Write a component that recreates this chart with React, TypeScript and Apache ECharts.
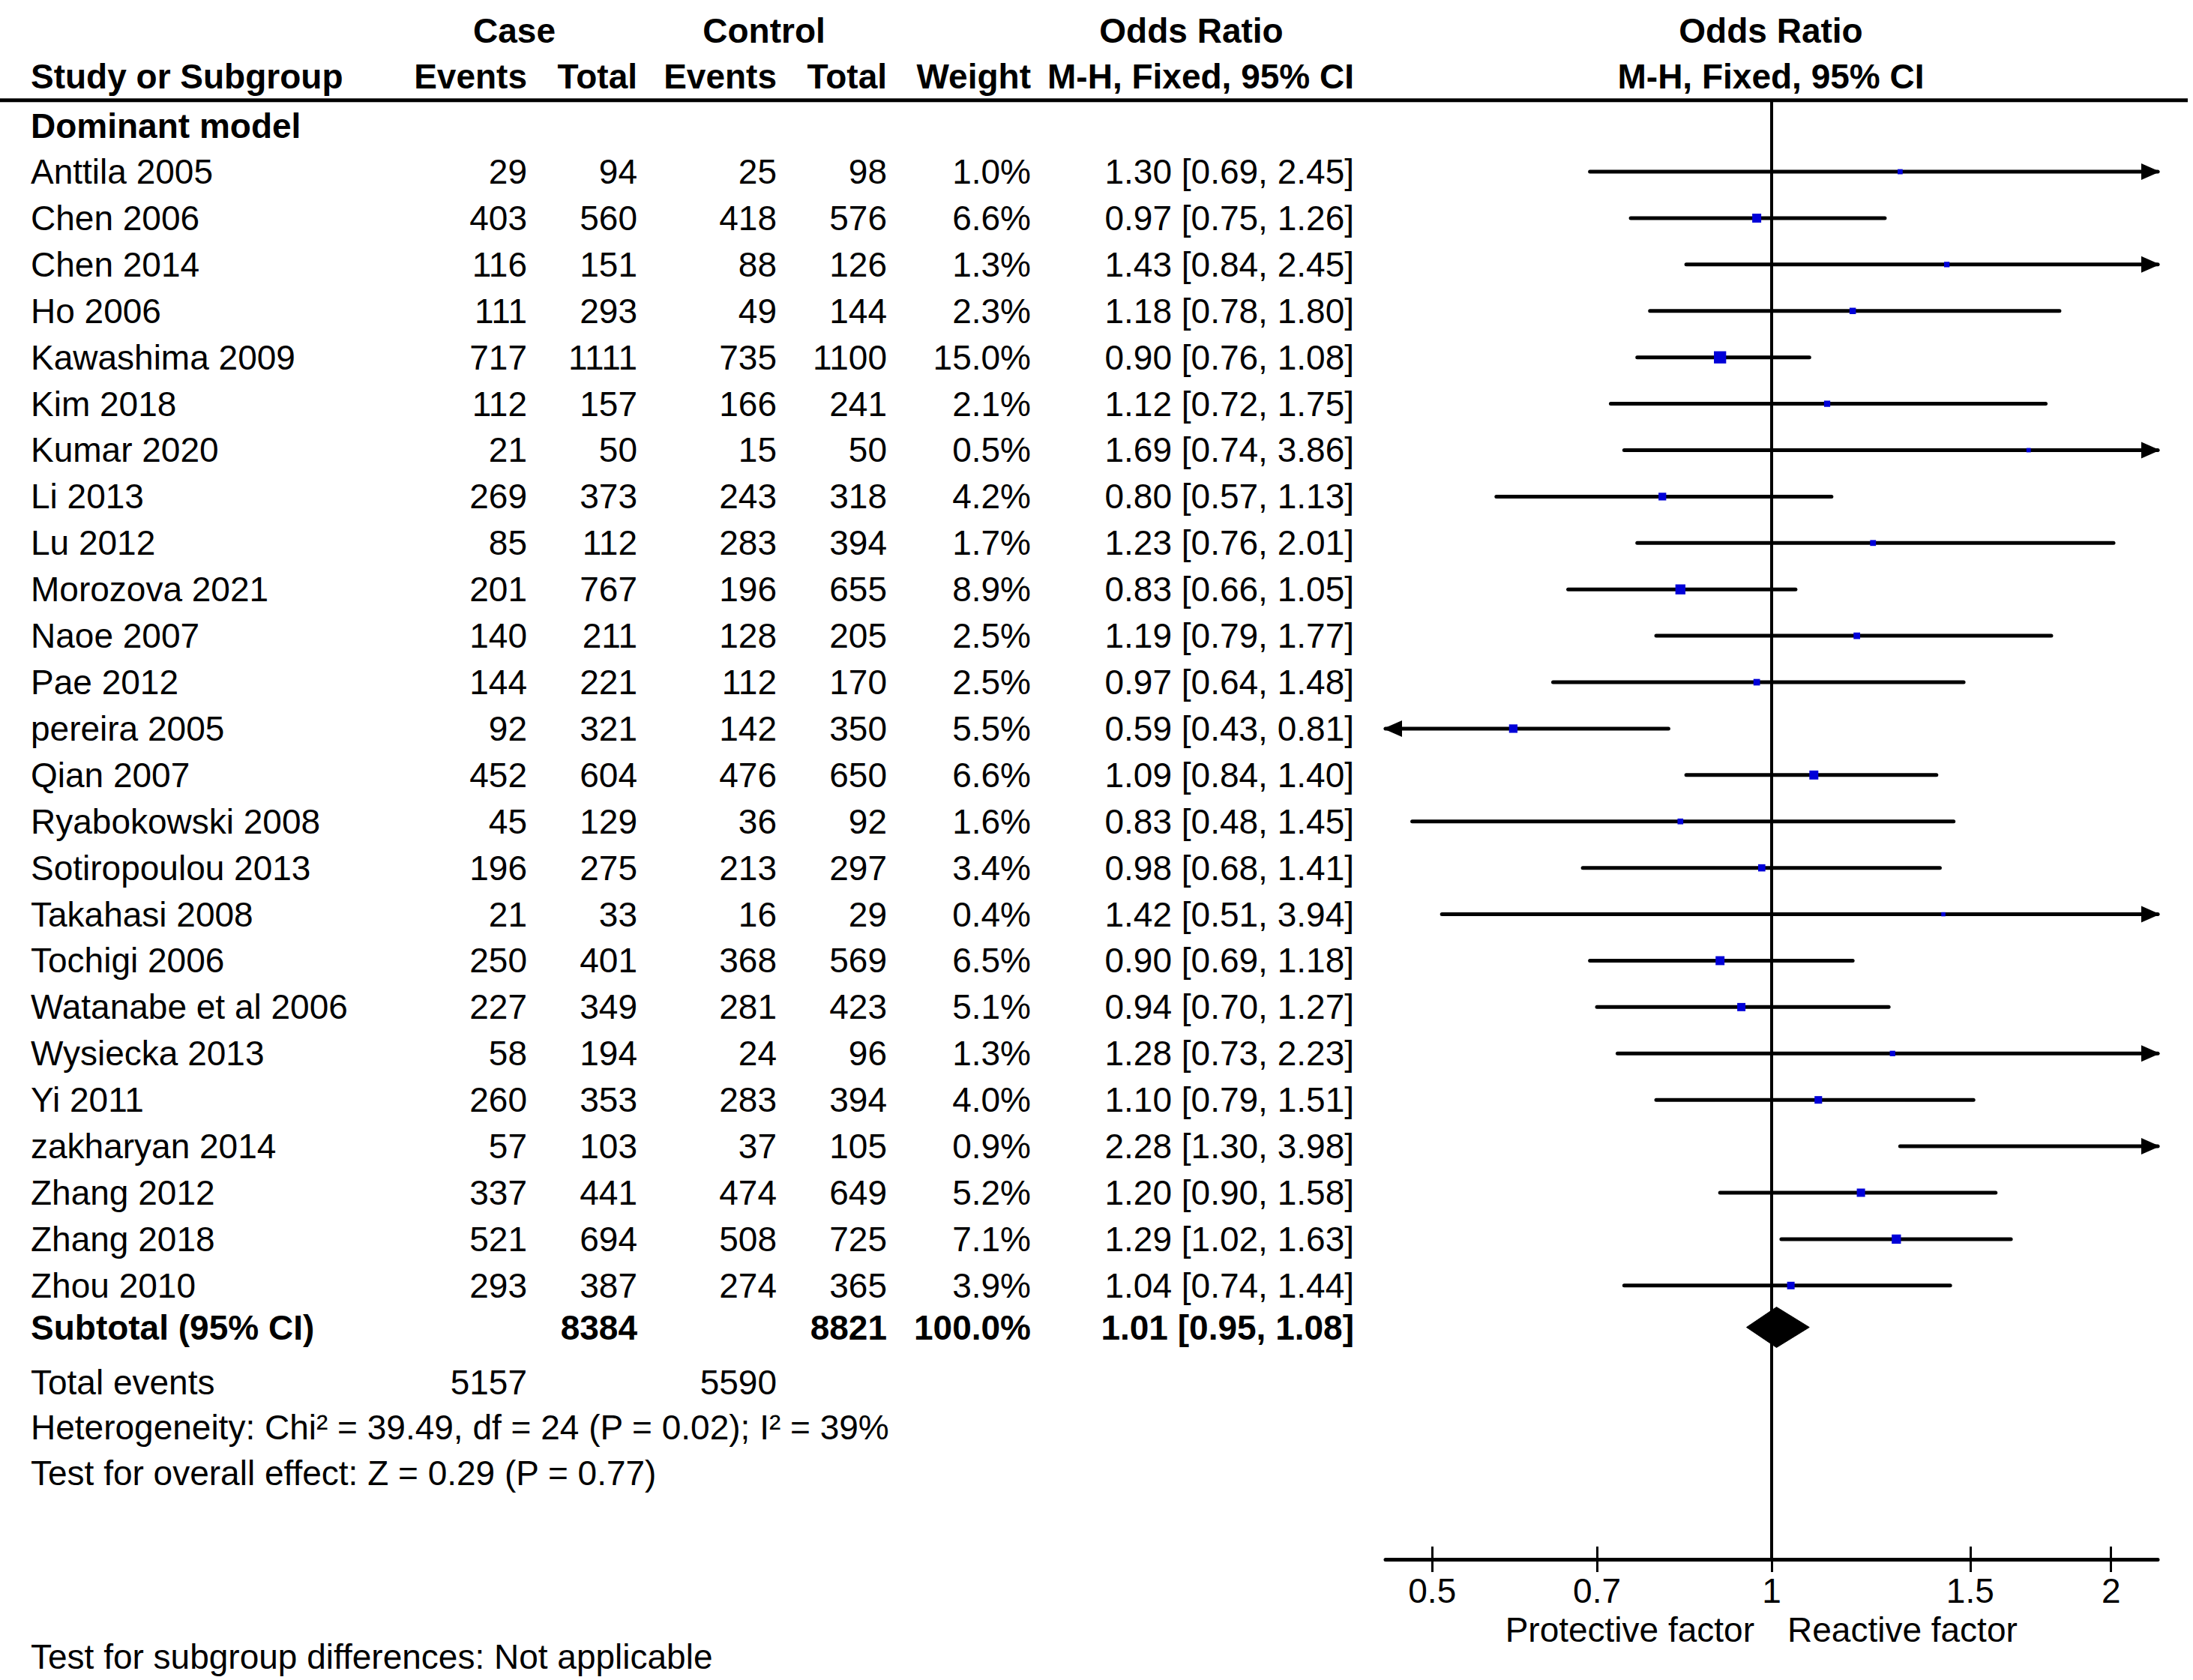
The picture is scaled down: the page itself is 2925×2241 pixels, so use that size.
import React, { useEffect, useRef } from "react";
import * as echarts from "echarts";

// ---------------- data ----------------
const studyNames = [
  "Anttila 2005", "Chen 2006", "Chen 2014", "Ho 2006", "Kawashima 2009", "Kim 2018",
  "Kumar 2020", "Li 2013", "Lu 2012", "Morozova 2021", "Naoe 2007", "Pae 2012",
  "pereira 2005", "Qian 2007", "Ryabokowski 2008", "Sotiropoulou 2013", "Takahasi 2008",
  "Tochigi 2006", "Watanabe et al 2006", "Wysiecka 2013", "Yi 2011", "zakharyan 2014",
  "Zhang 2012", "Zhang 2018", "Zhou 2010",
];
const caseEvents = [29, 403, 116, 111, 717, 112, 21, 269, 85, 201, 140, 144, 92, 452, 45, 196, 21, 250, 227, 58, 260, 57, 337, 521, 293];
const caseTotals = [94, 560, 151, 293, 1111, 157, 50, 373, 112, 767, 211, 221, 321, 604, 129, 275, 33, 401, 349, 194, 353, 103, 441, 694, 387];
const controlEvents = [25, 418, 88, 49, 735, 166, 15, 243, 283, 196, 128, 112, 142, 476, 36, 213, 16, 368, 281, 24, 283, 37, 474, 508, 274];
const controlTotals = [98, 576, 126, 144, 1100, 241, 50, 318, 394, 655, 205, 170, 350, 650, 92, 297, 29, 569, 423, 96, 394, 105, 649, 725, 365];
const weights = [1.0, 6.6, 1.3, 2.3, 15.0, 2.1, 0.5, 4.2, 1.7, 8.9, 2.5, 2.5, 5.5, 6.6, 1.6, 3.4, 0.4, 6.5, 5.1, 1.3, 4.0, 0.9, 5.2, 7.1, 3.9];
const oddsRatios = [1.30, 0.97, 1.43, 1.18, 0.90, 1.12, 1.69, 0.80, 1.23, 0.83, 1.19, 0.97, 0.59, 1.09, 0.83, 0.98, 1.42, 0.90, 0.94, 1.28, 1.10, 2.28, 1.20, 1.29, 1.04];
const ciLower = [0.69, 0.75, 0.84, 0.78, 0.76, 0.72, 0.74, 0.57, 0.76, 0.66, 0.79, 0.64, 0.43, 0.84, 0.48, 0.68, 0.51, 0.69, 0.70, 0.73, 0.79, 1.30, 0.90, 1.02, 0.74];
const ciUpper = [2.45, 1.26, 2.45, 1.80, 1.08, 1.75, 3.86, 1.13, 2.01, 1.05, 1.77, 1.48, 0.81, 1.40, 1.45, 1.41, 3.94, 1.18, 1.27, 2.23, 1.51, 3.98, 1.58, 1.63, 1.44];

const groupTitle = "Dominant model";
const subtotalLabel = "Subtotal (95% CI)";
const subtotalCaseTotal = 8384;
const subtotalControlTotal = 8821;
const subtotalWeight = 100.0;
const subtotalOR = [1.01, 0.95, 1.08];
const totalEventsLabel = "Total events";
const totalCaseEvents = 5157;
const totalControlEvents = 5590;
const heterogeneityText = "Heterogeneity: Chi\u00b2 = 39.49, df = 24 (P = 0.02); I\u00b2 = 39%";
const overallEffectText = "Test for overall effect: Z = 0.29 (P = 0.77)";
const subgroupText = "Test for subgroup differences: Not applicable";

const headerTop = ["Case", "Control", "Odds Ratio", "Odds Ratio"];
const headerSub = ["Study or Subgroup", "Events", "Total", "Events", "Total", "Weight", "M-H, Fixed, 95% CI", "M-H, Fixed, 95% CI"];
const tickValues = [0.5, 0.7, 1, 1.5, 2];
const tickLabels = ["0.5", "0.7", "1", "1.5", "2"];
const axisRangeRatio = 2.2; // axis spans 1/2.2 .. 2.2
const leftAxisName = "Protective factor";
const rightAxisName = "Reactive factor";

// ---------------- layout ----------------
const W = 2925;
const H = 2241;
const FONT = "Liberation Sans";
const FS = 46;
const PX_PER_ROW = 61.906;
const ROW_MIN = -3.7;
const TABLE_ROW_MAX = ROW_MIN + H / PX_PER_ROW;
const PLOT_LEFT = 1848;
const PLOT_RIGHT = 2878;
const AXIS_Y = 2080;
const PLOT_ROW_MAX = ROW_MIN + AXIS_Y / PX_PER_ROW;

const X_NAME = 41;
const X_CASE_EV = 703;
const X_CASE_TOT = 850;
const X_CTRL_EV = 1036;
const X_CTRL_TOT = 1183;
const X_WEIGHT = 1375;
const X_CI = 1806;
const X_RIGHT_HEAD = 2362;

const ROW_HEAD1 = -3.03;
const ROW_HEAD2 = -2.06;
const ROW_LINE = -1.54;
const ROW_GROUP = -0.99;
const ROW_SUBTOTAL = 24.9;
const ROW_TOTALEV = 26.08;
const ROW_HET = 27.06;
const ROW_OVERALL = 28.04;
const ROW_AXISNAME = 31.42;
const ROW_SUBGROUP = 32.0;

type Cell = { x: number; row: number; text: string; align: string; bold?: boolean };

const fmt2 = (v: number) => v.toFixed(2);
const ciText = (o: number, l: number, u: number) => `${fmt2(o)} [${fmt2(l)}, ${fmt2(u)}]`;

const cells: Cell[] = [];
cells.push({ x: 686, row: ROW_HEAD1, text: headerTop[0], align: "center", bold: true });
cells.push({ x: 1019, row: ROW_HEAD1, text: headerTop[1], align: "center", bold: true });
cells.push({ x: 1589, row: ROW_HEAD1, text: headerTop[2], align: "center", bold: true });
cells.push({ x: X_RIGHT_HEAD, row: ROW_HEAD1, text: headerTop[3], align: "center", bold: true });
const subXs = [X_NAME, X_CASE_EV, X_CASE_TOT, X_CTRL_EV, X_CTRL_TOT, X_WEIGHT, X_CI, X_RIGHT_HEAD];
headerSub.forEach((t, i) => {
  cells.push({ x: subXs[i], row: ROW_HEAD2, text: t, align: i === 0 ? "left" : i === 7 ? "center" : "right", bold: true });
});
cells.push({ x: X_NAME, row: ROW_GROUP, text: groupTitle, align: "left", bold: true });
studyNames.forEach((name, i) => {
  cells.push({ x: X_NAME, row: i, text: name, align: "left" });
  cells.push({ x: X_CASE_EV, row: i, text: String(caseEvents[i]), align: "right" });
  cells.push({ x: X_CASE_TOT, row: i, text: String(caseTotals[i]), align: "right" });
  cells.push({ x: X_CTRL_EV, row: i, text: String(controlEvents[i]), align: "right" });
  cells.push({ x: X_CTRL_TOT, row: i, text: String(controlTotals[i]), align: "right" });
  cells.push({ x: X_WEIGHT, row: i, text: weights[i].toFixed(1) + "%", align: "right" });
  cells.push({ x: X_CI, row: i, text: ciText(oddsRatios[i], ciLower[i], ciUpper[i]), align: "right" });
});
cells.push({ x: X_NAME, row: ROW_SUBTOTAL, text: subtotalLabel, align: "left", bold: true });
cells.push({ x: X_CASE_TOT, row: ROW_SUBTOTAL, text: String(subtotalCaseTotal), align: "right", bold: true });
cells.push({ x: X_CTRL_TOT, row: ROW_SUBTOTAL, text: String(subtotalControlTotal), align: "right", bold: true });
cells.push({ x: X_WEIGHT, row: ROW_SUBTOTAL, text: subtotalWeight.toFixed(1) + "%", align: "right", bold: true });
cells.push({ x: X_CI, row: ROW_SUBTOTAL, text: ciText(subtotalOR[0], subtotalOR[1], subtotalOR[2]), align: "right", bold: true });
cells.push({ x: X_NAME, row: ROW_TOTALEV, text: totalEventsLabel, align: "left" });
cells.push({ x: X_CASE_EV, row: ROW_TOTALEV, text: String(totalCaseEvents), align: "right" });
cells.push({ x: X_CTRL_EV, row: ROW_TOTALEV, text: String(totalControlEvents), align: "right" });
cells.push({ x: X_NAME, row: ROW_HET, text: heterogeneityText, align: "left" });
cells.push({ x: X_NAME, row: ROW_OVERALL, text: overallEffectText, align: "left" });
cells.push({ x: X_NAME, row: ROW_SUBGROUP, text: subgroupText, align: "left" });
cells.push({ x: 2340, row: ROW_AXISNAME, text: leftAxisName, align: "right" });
cells.push({ x: 2384, row: ROW_AXISNAME, text: rightAxisName, align: "left" });

const LN_MAX = Math.log(axisRangeRatio);
const LN_MIN = -LN_MAX;

const forestData = studyNames.map((_, i) => [
  i,
  Math.log(oddsRatios[i]),
  Math.log(ciLower[i]),
  Math.log(ciUpper[i]),
  weights[i],
]);
const diamondData = [[ROW_SUBTOTAL, Math.log(subtotalOR[0]), Math.log(subtotalOR[1]), Math.log(subtotalOR[2])]];

const tickLn = tickValues.map((v) => Math.log(v));
const labelFor = (v: number) => {
  const k = tickLn.findIndex((t) => Math.abs(t - v) < 1e-6);
  return k >= 0 ? tickLabels[k] : "";
};

const LINE_W = 5;
const markerSize = (w: number) => 3.5 + 3.3 * Math.sqrt(w);

export default function App() {
  const ref = useRef<HTMLDivElement>(null);
  useEffect(() => {
    document.body.style.margin = "0";
    if (!ref.current) return;
    const chart = echarts.init(ref.current, undefined, { renderer: "svg" });
    const option: any = {
      animation: false,
      backgroundColor: "#ffffff",
      grid: [
        { left: 0, top: 0, width: W, height: H },
        { left: PLOT_LEFT, top: 0, width: PLOT_RIGHT - PLOT_LEFT, height: AXIS_Y },
      ],
      xAxis: [
        { gridIndex: 0, type: "value", min: 0, max: W, show: false },
        {
          gridIndex: 1,
          type: "value",
          min: LN_MIN,
          max: LN_MAX,
          position: "bottom",
          axisLine: { show: true, onZero: false, lineStyle: { color: "#000", width: 5 } },
          axisTick: { show: true, customValues: tickLn, length: 17, lineStyle: { color: "#000", width: 3 } },
          axisLabel: {
            show: true,
            customValues: tickLn,
            formatter: (v: number) => labelFor(v),
            fontSize: FS,
            fontFamily: FONT,
            color: "#000",
            margin: 19,
          },
          splitLine: { show: false },
        },
        {
          gridIndex: 1,
          type: "value",
          min: LN_MIN,
          max: LN_MAX,
          position: "bottom",
          axisLine: { show: false, onZero: false },
          axisTick: { show: true, inside: true, customValues: tickLn, length: 17, lineStyle: { color: "#000", width: 3 } },
          axisLabel: { show: false },
          splitLine: { show: false },
        },
      ],
      yAxis: [
        { gridIndex: 0, type: "value", min: ROW_MIN, max: TABLE_ROW_MAX, inverse: true, show: false },
        { gridIndex: 1, type: "value", min: ROW_MIN, max: PLOT_ROW_MAX, inverse: true, show: false },
      ],
      graphic: [
        {
          type: "line",
          shape: { x1: 0, y1: (ROW_LINE - ROW_MIN) * PX_PER_ROW, x2: 2918, y2: (ROW_LINE - ROW_MIN) * PX_PER_ROW },
          style: { stroke: "#000", lineWidth: 5 },
          z: 10,
        },
      ],
      series: [
        {
          type: "custom",
          xAxisIndex: 0,
          yAxisIndex: 0,
          data: cells.map((c) => [c.x, c.row]),
          encode: { x: 0, y: 1 },
          silent: true,
          renderItem: (params: any, api: any) => {
            const c = cells[params.dataIndex];
            const p = api.coord([c.x, c.row]);
            return {
              type: "text",
              x: p[0],
              y: p[1],
              style: {
                text: c.text,
                fill: "#000",
                fontSize: FS,
                fontFamily: FONT,
                fontWeight: c.bold ? "bold" : "normal",
                align: c.align,
                verticalAlign: "middle",
              },
            };
          },
        },
        {
          type: "line",
          xAxisIndex: 1,
          yAxisIndex: 1,
          data: [[0, ROW_LINE], [0, PLOT_ROW_MAX]],
          symbol: "none",
          lineStyle: { color: "#000", width: LINE_W - 1 },
          silent: true,
          z: 1,
        },
        {
          type: "custom",
          xAxisIndex: 1,
          yAxisIndex: 1,
          data: forestData,
          encode: { x: [1, 2, 3], y: 0 },
          silent: true,
          z: 3,
          renderItem: (params: any, api: any) => {
            const row = api.value(0);
            const or = api.value(1);
            const lo = api.value(2);
            const hi = api.value(3);
            const w = api.value(4);
            const loC = Math.max(lo, LN_MIN);
            const hiC = Math.min(hi, LN_MAX);
            const pLo = api.coord([loC, row]);
            const pHi = api.coord([hiC, row]);
            const y = pLo[1];
            const children: any[] = [
              {
                type: "line",
                shape: { x1: pLo[0], y1: y, x2: pHi[0], y2: y },
                style: { stroke: "#000", lineWidth: LINE_W, lineCap: "round" },
              },
            ];
            if (hi > LN_MAX) {
              children.push({
                type: "polygon",
                shape: { points: [[pHi[0] + 3, y], [pHi[0] - 22, y - 11], [pHi[0] - 22, y + 11]] },
                style: { fill: "#000" },
              });
            }
            if (lo < LN_MIN) {
              children.push({
                type: "polygon",
                shape: { points: [[pLo[0] - 3, y], [pLo[0] + 22, y - 11], [pLo[0] + 22, y + 11]] },
                style: { fill: "#000" },
              });
            }
            if (or >= LN_MIN && or <= LN_MAX) {
              const c = api.coord([or, row]);
              const s = markerSize(w);
              children.push({
                type: "rect",
                shape: { x: c[0] - s / 2, y: c[1] - s / 2, width: s, height: s },
                style: { fill: "#0000d8" },
              });
            }
            return { type: "group", children };
          },
        },
        {
          type: "custom",
          xAxisIndex: 1,
          yAxisIndex: 1,
          data: diamondData,
          encode: { x: [1, 2, 3], y: 0 },
          silent: true,
          z: 4,
          renderItem: (params: any, api: any) => {
            const row = api.value(0);
            const c = api.coord([api.value(1), row]);
            const l = api.coord([api.value(2), row]);
            const r = api.coord([api.value(3), row]);
            const hh = 27;
            return {
              type: "polygon",
              shape: { points: [[l[0], c[1]], [c[0], c[1] - hh], [r[0], c[1]], [c[0], c[1] + hh]] },
              style: { fill: "#000", stroke: "#000", lineWidth: 1 },
            };
          },
        },
      ],
    };
    chart.setOption(option);
    return () => chart.dispose();
  }, []);
  return <div ref={ref} style={{ width: W, height: H }} />;
}
